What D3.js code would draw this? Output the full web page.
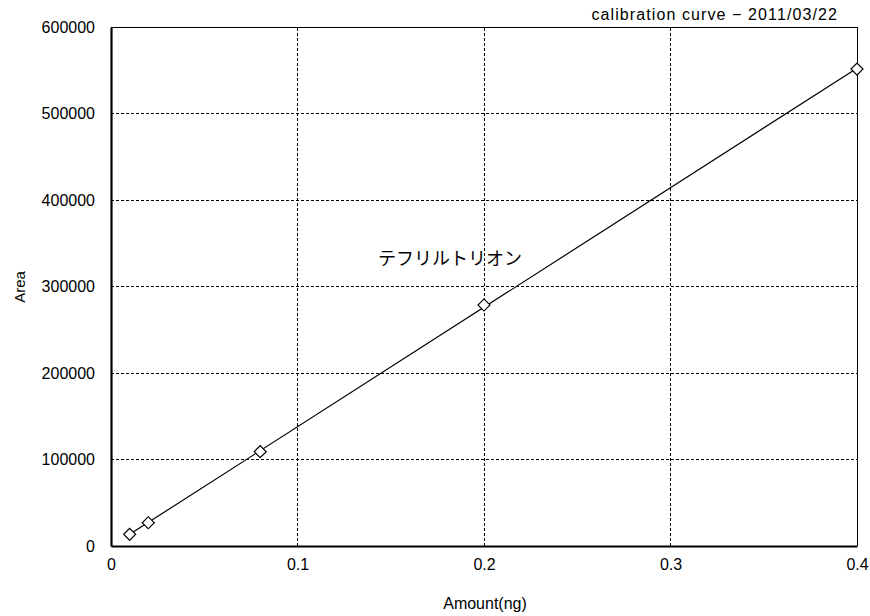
<!DOCTYPE html>
<html>
<head>
<meta charset="utf-8">
<script src="https://cdn.jsdelivr.net/npm/d3@7"></script>
<style>
  html, body { margin: 0; padding: 0; background: #fff; }
  svg { display: block; }
  text { fill: #000; }
</style>
</head>
<body>
<svg id="chart" width="870" height="616"></svg>
<script>
// Calibration standards: injected amount (ng) and measured peak area
const amounts = [0.01, 0.02, 0.08, 0.2, 0.4];
const areas = [13500, 26900, 109000, 278600, 551400];

const xTicks = [0, 0.1, 0.2, 0.3, 0.4];
const yTicks = [0, 100000, 200000, 300000, 400000, 500000, 600000];

const chartTitle = "calibration curve \u2212 2011/03/22";
const compoundName = "テフリルトリオン";
const xTitle = "Amount(ng)";
const yTitle = "Area";

const svg = d3.select("#chart");
const margin = { left: 111, right: 13, top: 27, bottom: 70 };
const W = 870, H = 616;
const plotW = W - margin.left - margin.right;
const plotH = H - margin.top - margin.bottom;

const x = d3.scaleLinear().domain([0, 0.4]).range([margin.left, margin.left + plotW]);
const y = d3.scaleLinear().domain([0, 600000]).range([margin.top + plotH, margin.top]);

const numFont = "'Liberation Sans', Arial, sans-serif";
const jpFont = "'Noto Sans CJK JP', sans-serif";

// Dashed grid lines
const grid = svg.append("g");
grid.selectAll("line.v").data(xTicks.slice(1, -1)).join("line")
  .attr("x1", d => x(d)).attr("x2", d => x(d))
  .attr("y1", y(0)).attr("y2", y(600000))
  .attr("stroke", "#000").attr("stroke-width", 1).attr("stroke-dasharray", "3,2")
  .attr("shape-rendering", "crispEdges");
grid.selectAll("line.h").data(yTicks.slice(1, -1)).join("line")
  .attr("y1", d => y(d)).attr("y2", d => y(d))
  .attr("x1", x(0)).attr("x2", x(0.4))
  .attr("stroke", "#000").attr("stroke-width", 1).attr("stroke-dasharray", "3,2")
  .attr("shape-rendering", "crispEdges");

// Thin top and right frame
svg.append("path")
  .attr("d", `M${x(0)},${y(600000)}H${x(0.4)}V${y(0)}`)
  .attr("fill", "none").attr("stroke", "#000").attr("stroke-width", 1)
  .attr("shape-rendering", "crispEdges");

// Axes (thick left and bottom)
const xAxis = svg.append("g").attr("transform", `translate(0,${y(0)})`)
  .call(d3.axisBottom(x).tickValues(xTicks).tickSize(0).tickPadding(13)
    .tickFormat(d => d === 0 ? "0" : d3.format(".1f")(d)));
const yAxis = svg.append("g").attr("transform", `translate(${x(0)},0)`)
  .call(d3.axisLeft(y).tickValues(yTicks).tickSize(0).tickPadding(16)
    .tickFormat(d3.format("d")));
[xAxis, yAxis].forEach(g => {
  g.select(".domain").attr("stroke", "#000").attr("stroke-width", 2.2);
  g.selectAll("text").attr("font-family", numFont).attr("font-size", 16).attr("fill", "#000");
});

// Least-squares calibration line
const mx = d3.mean(amounts), my = d3.mean(areas);
const slope = d3.sum(amounts.map((a, i) => (a - mx) * (areas[i] - my))) /
              d3.sum(amounts.map(a => (a - mx) * (a - mx)));
const intercept = my - slope * mx;
const fitX = [d3.min(amounts), d3.max(amounts)];
svg.append("path")
  .datum(fitX)
  .attr("d", d3.line().x(d => x(d)).y(d => y(slope * d + intercept)))
  .attr("fill", "none").attr("stroke", "#000").attr("stroke-width", 1.2);

// Diamond markers for the standards
const diamond = d3.symbol().type(d3.symbolSquare).size(72);
svg.append("g").selectAll("path").data(amounts).join("path")
  .attr("d", diamond)
  .attr("transform", (d, i) => `translate(${x(d)},${y(areas[i])}) rotate(45)`)
  .attr("fill", "#fff").attr("stroke", "#000").attr("stroke-width", 1.2);

// Titles and labels
svg.append("text").attr("x", 838).attr("y", 20).attr("text-anchor", "end")
  .attr("letter-spacing", 1.1)
  .attr("font-family", numFont).attr("font-size", 16).text(chartTitle);

svg.append("text").attr("x", 378).attr("y", 265)
  .attr("font-family", jpFont).attr("font-size", 18).text(compoundName);

svg.append("text").attr("x", 485).attr("y", 609).attr("text-anchor", "middle")
  .attr("font-family", numFont).attr("font-size", 16).text(xTitle);

svg.append("text").attr("transform", "translate(25,287) rotate(-90)")
  .attr("text-anchor", "middle")
  .attr("font-family", numFont).attr("font-size", 15).text(yTitle);
</script>
</body>
</html>
